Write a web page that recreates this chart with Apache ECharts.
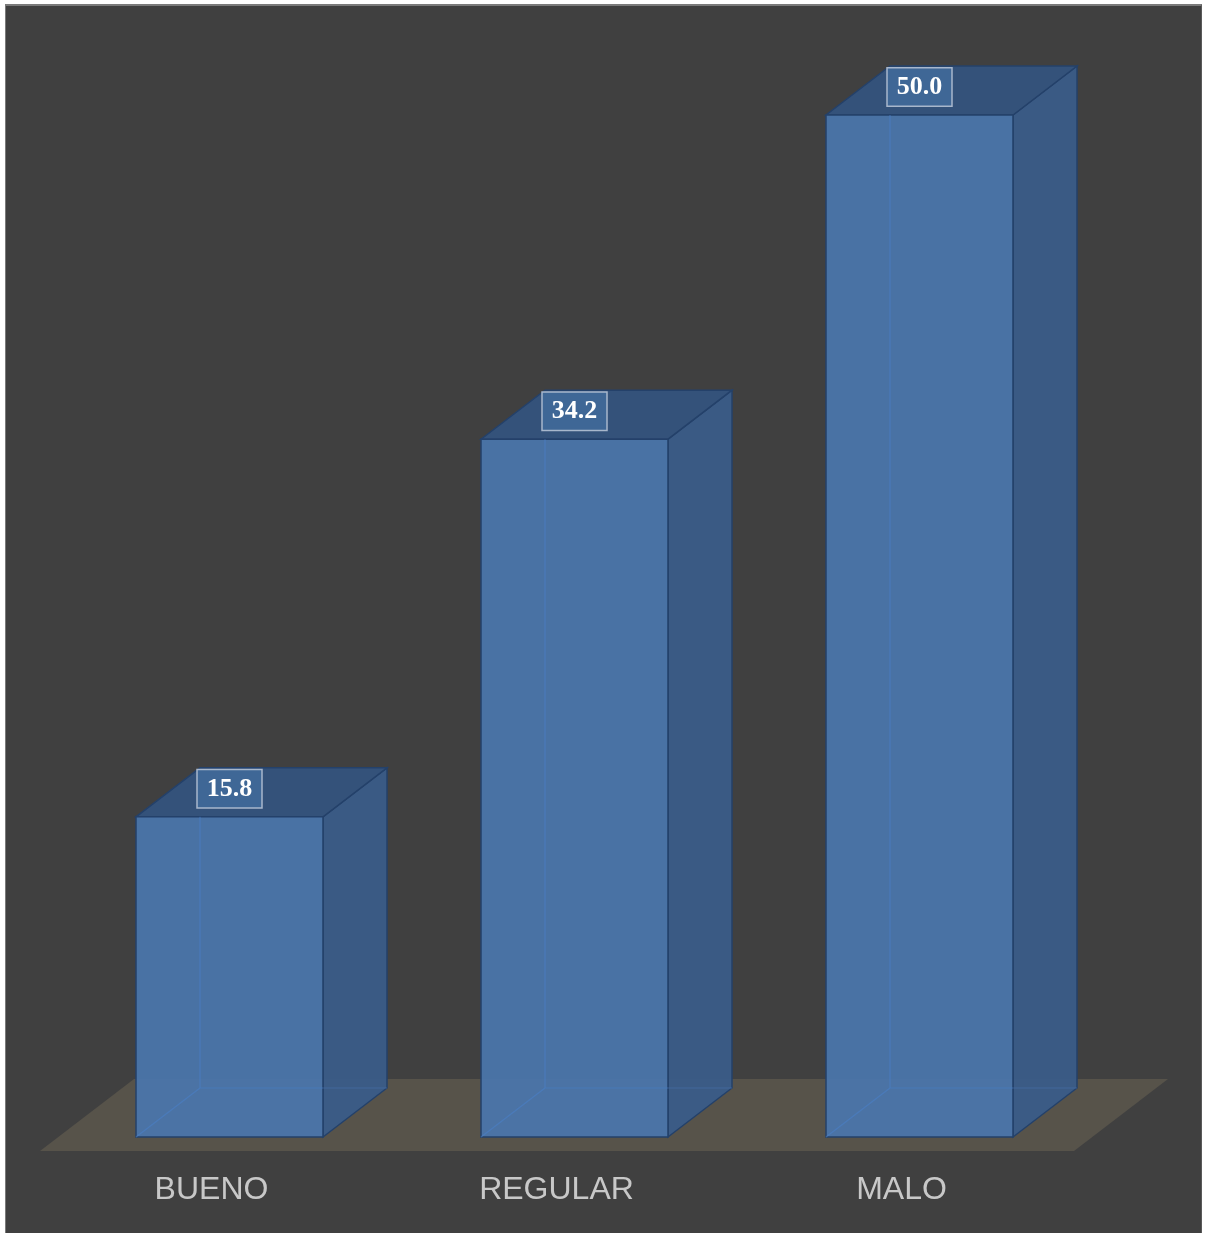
<!DOCTYPE html>
<html>
<head>
<meta charset="utf-8">
<script src="https://cdn.jsdelivr.net/npm/echarts@6/dist/echarts.min.js"></script>
<style>
html,body{margin:0;padding:0;background:#ffffff;}
#frame{position:absolute;left:5px;top:4px;width:1197px;height:1229px;background:#404040;border-top:2px solid #7a7a7a;border-left:1px solid #7a7a7a;border-right:1px solid #5a5a5a;box-sizing:border-box;}
#chart{position:absolute;left:0;top:0;width:1205px;height:1233px;}
</style>
</head>
<body>
<div id="frame"></div>
<div id="chart"></div>
<script>
const categories = ['BUENO', 'REGULAR', 'MALO'];
const values = [15.8, 34.2, 50.0];

const chart = echarts.init(document.getElementById('chart'), null, {renderer: 'canvas'});

const DX = 64, DY = -49;          // bar depth offset
const FDX = 94, FDY = -72;        // floor depth offset
const LIFT = 4;                   // bar base sits slightly above the zero line

function floorItem(params, api) {
  const cs = params.coordSys;
  const y0 = api.coord([0, 0])[1] + 10;
  const xl = cs.x - 17, xr = cs.x + cs.width - 18;
  return {
    type: 'polygon',
    shape: {points: [[xl, y0], [xr, y0], [xr + FDX, y0 + FDY], [xl + FDX, y0 + FDY]]},
    style: {fill: '#57534a'}
  };
}

function barItem(params, api) {
  const idx = api.value(0);
  const v = api.value(1);
  const base = api.coord([idx, 0]);
  const topP = api.coord([idx, v]);
  const w = api.size([1, 0])[0] * 0.542;
  const x0 = base[0] - w / 2, x1 = base[0] + w / 2;
  const yb = base[1] - LIFT, yt = topP[1];
  const edge = '#24416a';
  const inner = 'rgba(80,130,195,0.6)';
  const innerFront = 'rgba(75,125,195,0.6)';
  return {
    type: 'group',
    children: [
      {type: 'polyline', shape: {points: [[x0 + DX, yt + DY], [x0 + DX, yb + DY], [x1 + DX, yb + DY]]}, style: {stroke: inner, lineWidth: 1.2, fill: null}},
      {type: 'line', shape: {x1: x0, y1: yb, x2: x0 + DX, y2: yb + DY}, style: {stroke: inner, lineWidth: 1.2}},
      // side face
      {type: 'polygon', shape: {points: [[x1, yb], [x1 + DX, yb + DY], [x1 + DX, yt + DY], [x1, yt]]},
        style: {fill: 'rgba(58,92,136,0.95)', stroke: edge, lineWidth: 1.5}},
      // top face
      {type: 'polygon', shape: {points: [[x0, yt], [x1, yt], [x1 + DX, yt + DY], [x0 + DX, yt + DY]]},
        style: {fill: '#34527a', stroke: edge, lineWidth: 1.5}},
      // front face
      {type: 'rect', shape: {x: x0, y: yt, width: w, height: yb - yt},
        style: {fill: 'rgba(74,118,172,0.92)', stroke: edge, lineWidth: 1.5}},
      // back edges seen through the front
      {type: 'polyline', shape: {points: [[x0 + DX, yt], [x0 + DX, yb + DY], [x1, yb + DY]]}, style: {stroke: innerFront, lineWidth: 1.2, fill: null}},
      {type: 'line', shape: {x1: x0, y1: yb, x2: x0 + DX, y2: yb + DY}, style: {stroke: innerFront, lineWidth: 1.2}},
      {type: 'line', shape: {x1: x1, y1: yb + DY, x2: x1 + DX, y2: yb + DY}, style: {stroke: 'rgba(70,110,170,0.6)', lineWidth: 1.2}},
      // value label
      {type: 'text', x: base[0], y: yt - 28,
        style: {
          text: v.toFixed(1), font: 'bold 26px "Liberation Serif", serif', fill: '#ffffff',
          align: 'center', verticalAlign: 'middle',
          backgroundColor: '#3f6796', borderColor: '#a8b7cc', borderWidth: 1.5,
          padding: [6, 9, 5, 9],
          boxShadowBlur: 14, boxShadowColor: 'rgba(0,0,0,0.45)', boxShadowOffsetY: 8
        }}
    ]
  };
}

chart.setOption({
  backgroundColor: 'transparent',
  animation: false,
  grid: {left: 57, right: 113, top: 115, bottom: 92},
  xAxis: {
    type: 'category', data: categories,
    axisLine: {show: false}, axisTick: {show: false},
    axisLabel: {color: '#c8c8c8', fontSize: 32, fontFamily: '"Liberation Sans", Arial, sans-serif', margin: 33, padding: [0, 36, 0, 0]}
  },
  yAxis: {type: 'value', min: 0, max: 50, show: false},
  series: [
    {type: 'custom', renderItem: floorItem, data: [[0, 0]], z: 1, silent: true},
    {type: 'custom', renderItem: barItem, data: values.map((v, i) => [i, v]), z: 2}
  ]
});
</script>
</body>
</html>
